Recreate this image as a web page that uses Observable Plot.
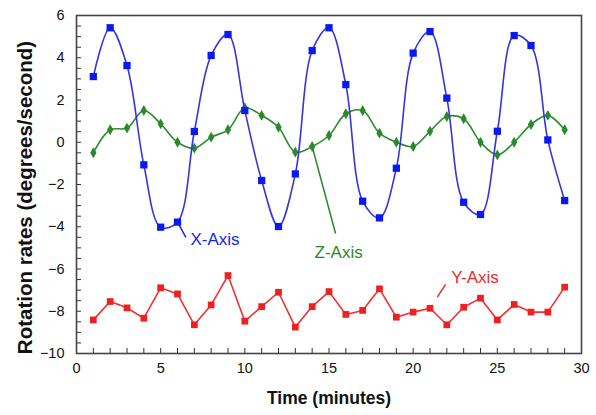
<!DOCTYPE html>
<html>
<head>
<meta charset="utf-8">
<script src="https://cdn.jsdelivr.net/npm/d3@7"></script>
<script src="https://cdn.jsdelivr.net/npm/@observablehq/plot@0.6"></script>
<style>
  html, body { margin: 0; padding: 0; background: #fff; }
  svg { font-family: "Liberation Sans", Arial, sans-serif; }
</style>
</head>
<body>
<div id="chart"></div>
<script>
const minutes = [1,2,3,4,5,6,7,8,9,10,11,12,13,14,15,16,17,18,19,20,21,22,23,24,25,26,27,28,29];
const xAxisRate = [3.11, 5.42, 3.63, -1.07, -4.02, -3.78, 0.51, 4.11, 5.10, 1.50, -1.81, -3.99, -1.50, 4.34, 5.42, 2.73, -2.79, -3.58, -1.23, 4.22, 5.24, 2.09, -2.84, -3.42, 0.52, 5.05, 4.58, 0.11, -2.76];
const zAxisRate = [-0.50, 0.59, 0.67, 1.50, 0.87, 0.00, -0.28, 0.24, 0.59, 1.63, 1.27, 0.71, -0.47, -0.20, 0.32, 1.35, 1.50, 0.43, 0.00, -0.20, 0.52, 1.22, 1.11, 0.00, -0.60, 0.00, 0.84, 1.27, 0.59];
const yAxisRate = [-8.41, -7.54, -7.84, -8.33, -6.89, -7.18, -8.64, -7.70, -6.31, -8.47, -7.78, -7.10, -8.75, -7.78, -7.07, -8.15, -7.96, -6.94, -8.28, -8.04, -7.86, -8.64, -7.81, -7.38, -8.41, -7.68, -8.04, -8.04, -6.86];

const xTickLabels = [0, 5, 10, 15, 20, 25, 30];
const yTickLabels = [-10, -8, -6, -4, -2, 0, 2, 4, 6];
const xMinorTicks = d3.range(0, 31, 1);
const yMinorTicks = d3.range(-10, 6.01, 0.5);

// series labels with leader lines (data coordinates)
const seriesNames = ["X-Axis", "Z-Axis", "Y-Axis"];
const labelX = [6.77, 14.14, 22.26];
const labelY = [-4.62, -5.20, -6.42];
const leaderX1 = [6.05, 14.0, 21.93];
const leaderY1 = [-3.85, -0.2, -6.73];
const leaderX2 = [6.5, 15.39, 21.43];
const leaderY2 = [-4.5, -4.32, -7.33];
const seriesColors = ["#1428e8", "#2a8a2a", "#ec2a2a"];

const xData = minutes.map((m, i) => ({m, v: xAxisRate[i]}));
const zData = minutes.map((m, i) => ({m, v: zAxisRate[i]}));
const yData = minutes.map((m, i) => ({m, v: yAxisRate[i]}));
const labels = seriesNames.map((name, i) => ({name, x: labelX[i], y: labelY[i], x1: leaderX1[i], y1: leaderY1[i], x2: leaderX2[i], y2: leaderY2[i], c: seriesColors[i]}));

const chart = Plot.plot({
  width: 596,
  height: 415,
  marginLeft: 76,
  marginRight: 15,
  marginTop: 15,
  marginBottom: 62,
  style: {fontFamily: "Liberation Sans, Arial, sans-serif", fontSize: "14px", color: "#111"},
  x: {domain: [0, 30], axis: null},
  y: {domain: [-10, 6], axis: null},
  marks: [
    Plot.tickX(xMinorTicks, {x: d => d, insetTop: 333, stroke: "#333", strokeWidth: 1}),
    Plot.tickY(yMinorTicks, {y: d => d, insetRight: 500, stroke: "#333", strokeWidth: 1}),
    Plot.axisX(xTickLabels, {anchor: "bottom", tickSize: 0, tickPadding: 9, fontSize: 14.5, label: null, fill: "#111"}),
    Plot.axisY(yTickLabels, {anchor: "left", tickSize: 0, tickPadding: 12, fontSize: 14.5, label: null, fill: "#111"}),
    Plot.frame({stroke: "#444", strokeWidth: 1.6}),
    Plot.line(zData, {x: "m", y: "v", stroke: "#2e8b2e", strokeWidth: 1.6, curve: "catmull-rom"}),
    Plot.dot(zData, {x: "m", y: "v", symbol: "diamond", r: 3.3, fill: "#2a8a2a", stroke: "none"}),
    Plot.line(yData, {x: "m", y: "v", stroke: "#f03030", strokeWidth: 1.6}),
    Plot.dot(yData, {x: "m", y: "v", symbol: "square", r: 3.8, fill: "#f02020", stroke: "none"}),
    Plot.line(xData, {x: "m", y: "v", stroke: "#3535e0", strokeWidth: 1.6, curve: "catmull-rom"}),
    Plot.dot(xData, {x: "m", y: "v", symbol: "square", r: 4.1, fill: "#0a18f2", stroke: "none"}),
    Plot.link(labels, {x1: "x1", y1: "y1", x2: "x2", y2: "y2", stroke: "c", strokeWidth: 1.5}),
    Plot.text(labels, {x: "x", y: "y", text: "name", fill: "c", textAnchor: "start", fontSize: 17}),
    Plot.text(["Time (minutes)"], {frameAnchor: "bottom", dy: 50, fontSize: 17.5, fontWeight: "bold", fill: "#111"}),
    Plot.text(["Rotation rates (degrees/second)"], {frameAnchor: "left", textAnchor: "middle", dx: -51, dy: 13, rotate: -90, fontSize: 20.5, fontWeight: "bold", fill: "#111"})
  ]
});
document.getElementById("chart").appendChild(chart);
</script>
</body>
</html>
